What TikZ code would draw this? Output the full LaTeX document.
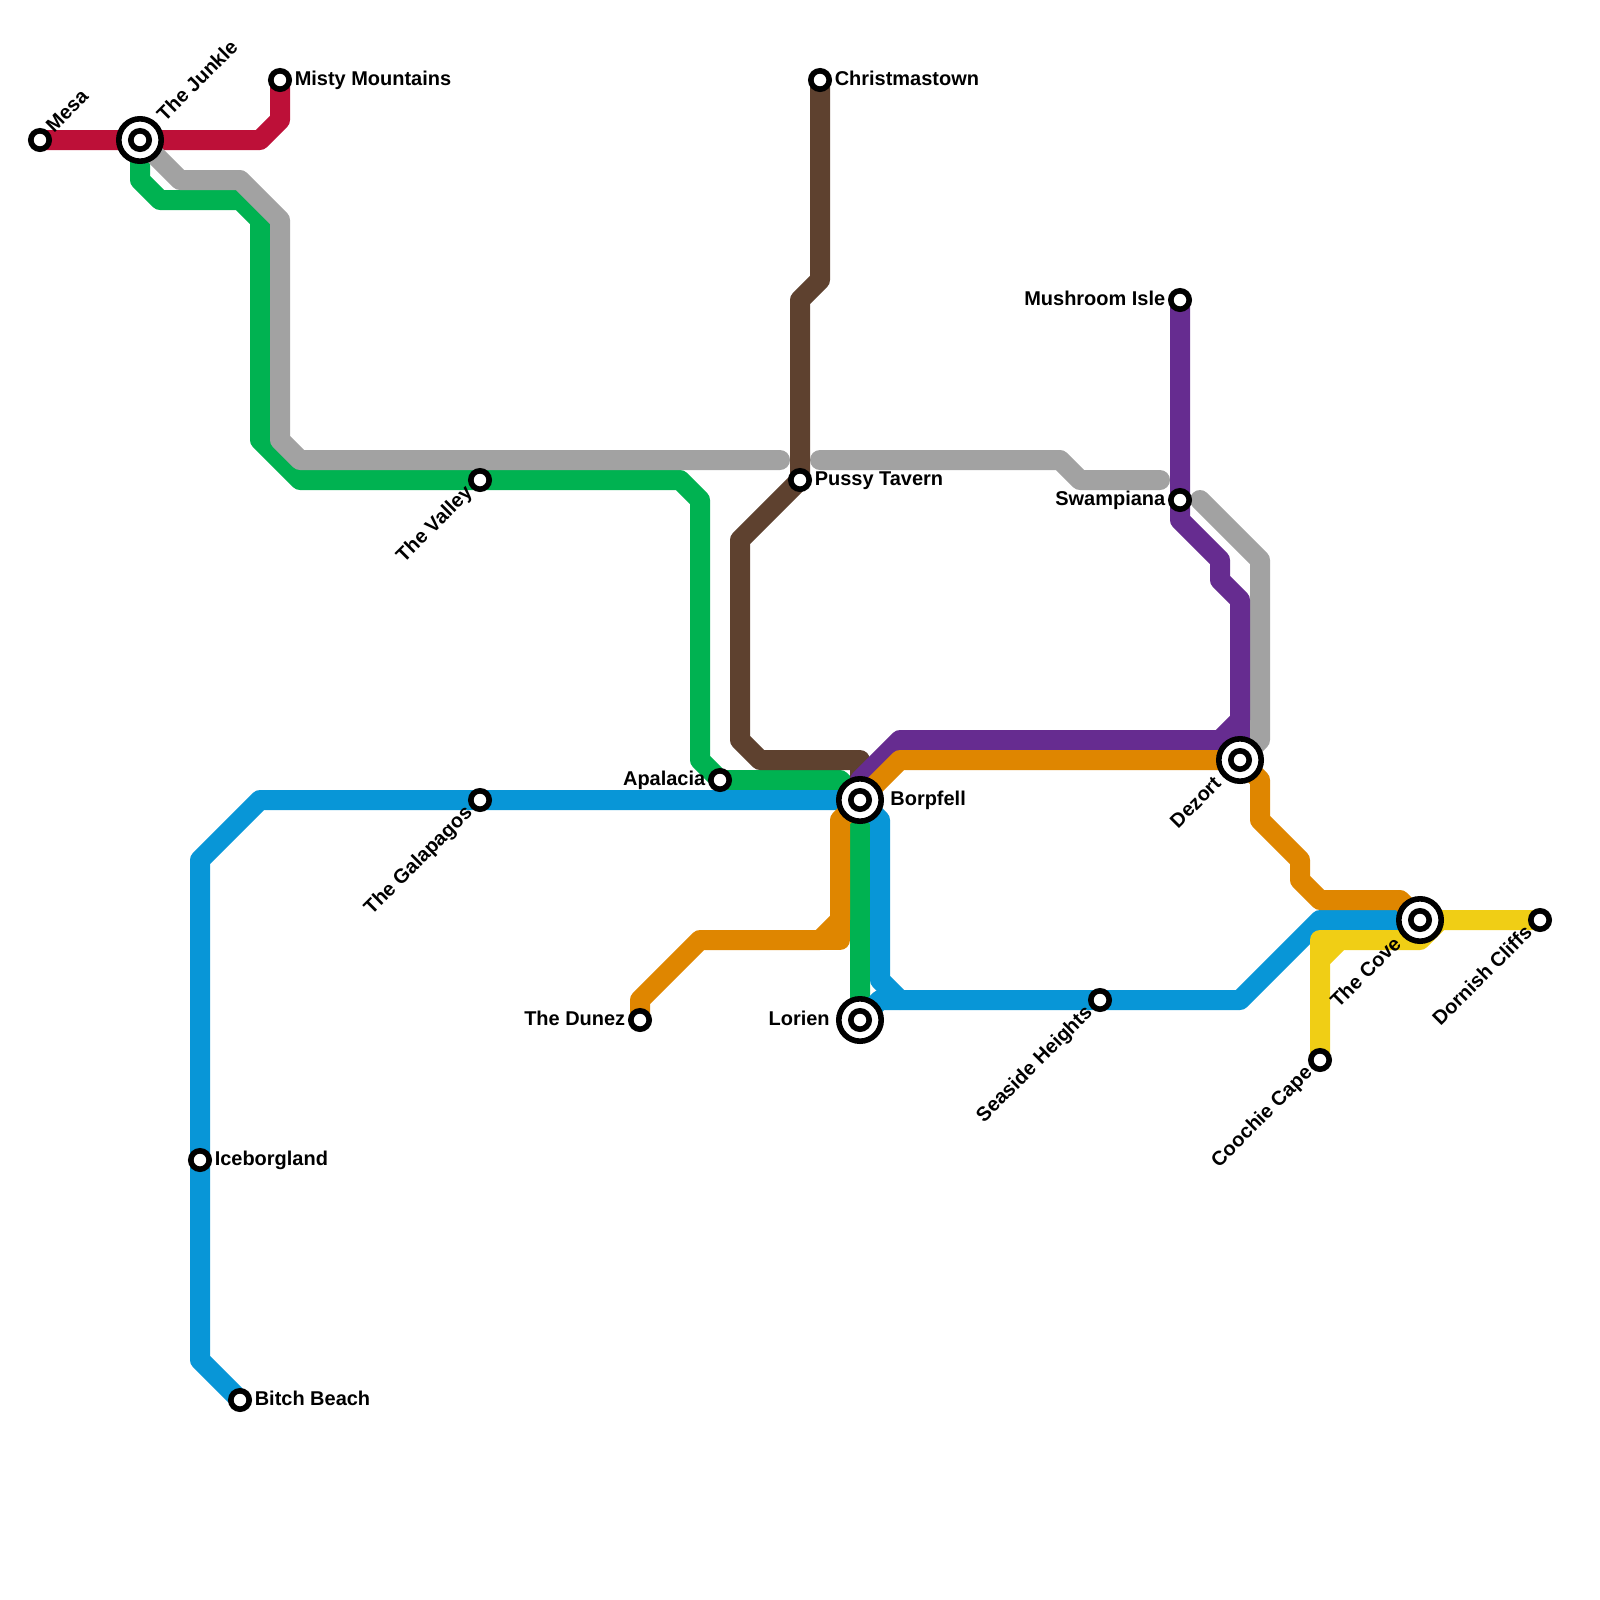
\documentclass[tikz,border=0pt]{standalone}
\usepackage{fontspec}
\setmainfont{Liberation Sans}
\usetikzlibrary{backgrounds}
\definecolor{mred}{HTML}{BD1038}
\definecolor{mgreen}{HTML}{00B251}
\definecolor{mgray}{HTML}{A2A2A2}
\definecolor{mblue}{HTML}{0896D7}
\definecolor{mbrown}{HTML}{5E412F}
\definecolor{mpurple}{HTML}{662C90}
\definecolor{morange}{HTML}{DF8600}
\definecolor{myellow}{HTML}{F0CE15}

\begin{document}
\begin{tikzpicture}[x=.5cm,y=-.5cm,
  route/.style={draw=#1,line width=.5cm,line cap=round,line join=round},
  stn/.style={circle,draw=black,fill=white,line width=.14cm,inner sep=0pt,minimum size=.46cm},
  hub/.style={circle,draw=black,fill=white,line width=.14cm,inner sep=0pt,minimum size=1.06cm,
    path picture={\draw[line width=.14cm] (path picture bounding box.center) circle (.23cm);}},
  txt/.style={font=\fontsize{14.2pt}{16pt}\selectfont\bfseries,inner sep=0pt,outer sep=.07cm,text height=.73em,text depth=0pt},
  hubtxt/.style={txt,outer sep=.16cm},
  up/.style={rotate=45,anchor=west},
  dn/.style={rotate=45,anchor=east}]
\useasboundingbox (0,0) rectangle (80,80);
% stations
\node[stn,label={[txt,up]45:Mesa}] (mesa) at (2,7) {};
\node[hub,label={[hubtxt,up]45:The Junkle}] (junkle) at (7,7) {};
\node[stn,label={[txt]right:Misty Mountains}] (misty) at (14,4) {};
\node[stn,label={[txt]right:Christmastown}] (xmas) at (41,4) {};
\node[stn,label={[txt]left:Mushroom Isle}] (mush) at (59,15) {};
\node[stn,label={[txt]left:Swampiana}] (swamp) at (59,25) {};
\node[stn,label={[txt]right:Pussy Tavern}] (tavern) at (40,24) {};
\node[stn,label={[txt,dn]225:The Valley}] (valley) at (24,24) {};
\node[stn,label={[txt]left:Apalacia}] (apal) at (36,39) {};
\node[hub,label={[hubtxt]right:Borpfell}] (borp) at (43,40) {};
\node[stn,label={[txt,dn]225:The Galapagos}] (gala) at (24,40) {};
\node[stn,label={[txt]left:The Dunez}] (dunez) at (32,51) {};
\node[hub,label={[hubtxt]left:Lorien}] (lorien) at (43,51) {};
\node[stn,label={[txt,dn]225:Seaside Heights}] (seaside) at (55,50) {};
\node[stn,label={[txt]right:Iceborgland}] (ice) at (10,58) {};
\node[stn,label={[txt]right:Bitch Beach}] (bitch) at (12,70) {};
\node[stn,label={[txt,dn]225:Coochie Cape}] (coochie) at (66,53) {};
\node[hub,label={[hubtxt,dn]225:The Cove}] (cove) at (71,46) {};
\node[stn,label={[txt,dn]225:Dornish Cliffs}] (dorn) at (77,46) {};
\node[hub,label={[hubtxt,dn]225:Dezort}] (dezort) at (62,38) {};
% lines
\begin{scope}[on background layer]
\draw[route=mred] (mesa.center) -- (13,7) -- (14,6) -- (misty.center);
\draw[route=mgreen] (junkle.center) -- (7,9) -- (8,10) -- (12,10) -- (13,11) -- (13,22) -- (15,24) -- (34,24) -- (35,25) -- (35,38) -- (36,39) -- (42,39) -- (borp.center) -- (lorien.center);
\draw[route=mgray] (junkle.center) -- (9,9) -- (12,9) -- (14,11) -- (14,22) -- (15,23) -- (39,23);
\draw[route=mgray] (41,23) -- (53,23) -- (54,24) -- (58,24);
\draw[route=mgray] (60,25) -- (63,28) -- (63,37) -- (dezort.center);
\draw[route=mblue] (bitch.center) -- (10,68) -- (10,43) -- (13,40) -- (borp.center) -- (44,41) -- (44,49) -- (45,50) -- (62,50) -- (66,46) -- (cove.center);
\draw[route=mblue] (lorien.center) -- (44,50) -- (45,50);
\draw[route=mbrown] (xmas.center) -- (41,14) -- (40,15) -- (tavern.center) -- (37,27) -- (37,37) -- (38,38) -- (43,38) -- (borp.center);
\draw[route=mpurple] (mush.center) -- (59,26) -- (61,28) -- (61,29) -- (62,30) -- (62,36) -- (61,37) -- (45,37) -- (43,39) -- (borp.center);
\draw[route=mpurple] (62,36) -- (dezort.center);
\draw[route=morange] (dunez.center) -- (32,50) -- (35,47) -- (41,47) -- (42,46) -- (42,41) -- (borp.center) -- (45,38) -- (dezort.center) -- (63,39) -- (63,41) -- (65,43) -- (65,44) -- (66,45) -- (70,45) -- (cove.center);
\draw[route=morange] (41,47) -- (42,47) -- (42,46);
\draw[route=myellow] (coochie.center) -- (66,48) -- (67,47) -- (71,47) -- (72,46) -- (dorn.center);
\draw[route=myellow] (66,48) -- (66,47) -- (67,47);
\end{scope}
\end{tikzpicture}
\end{document}
